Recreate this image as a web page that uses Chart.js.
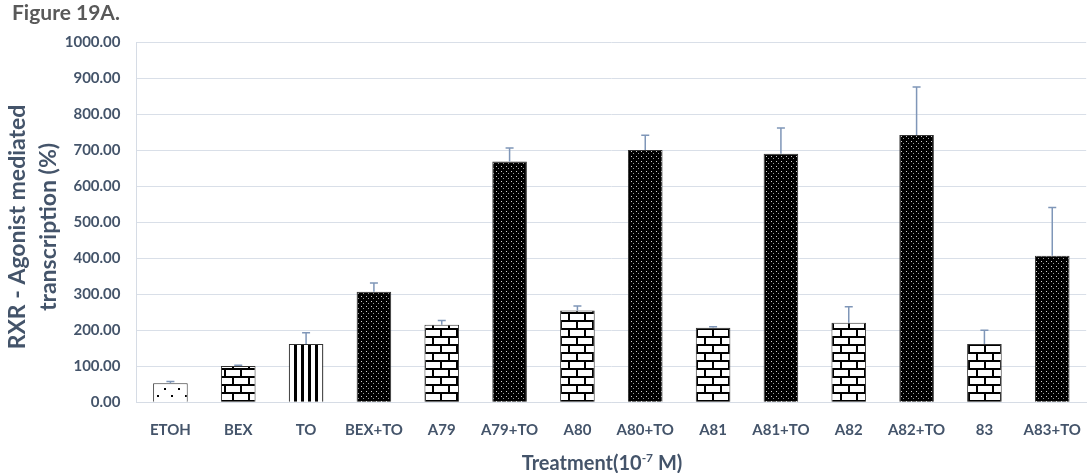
<!DOCTYPE html>
<html>
<head>
<meta charset="utf-8">
<script src="https://cdn.jsdelivr.net/npm/chart.js@4.4.1/dist/chart.umd.min.js"></script>
<style>
  html, body { margin: 0; padding: 0; background: #fff; overflow: hidden; }
  #wrap { position: relative; width: 1100px; height: 473px; }
</style>
</head>
<body>
<div id="wrap"><canvas id="chart"></canvas></div>
<script>
// Treatment groups (x axis)
const categories = ['ETOH', 'BEX', 'TO', 'BEX+TO', 'A79', 'A79+TO', 'A80', 'A80+TO',
                    'A81', 'A81+TO', 'A82', 'A82+TO', '83', 'A83+TO'];
// mean transcription (%) and upper error (SD)
const means  = [53, 101, 162, 307, 215, 668, 255, 700, 207, 690, 221, 742, 162, 407];
const errors = [5, 2, 31, 24, 12, 38, 12, 41, 3, 71, 44, 133, 38, 134];
// fill pattern for each bar
const fills = ['sparseDots', 'brick', 'stripes', 'darkDots', 'brick', 'darkDots', 'brick',
               'darkDots', 'brick', 'darkDots', 'brick', 'darkDots', 'brick', 'darkDots'];
const yMin = 0, yMax = 1000, yStep = 100;

const LABEL = '#44546A';
const FONT = 'Lato, "Open Sans", sans-serif';

// --- pattern tiles ---
function makePattern(kind) {
    const c = document.createElement('canvas');
    const g = c.getContext('2d');
    if (kind === 'sparseDots') {
        c.width = 14; c.height = 14;
        g.fillStyle = '#fff'; g.fillRect(0, 0, 14, 14);
        g.fillStyle = '#000';
        g.fillRect(3, 3, 2, 2);
        g.fillRect(10, 10, 2, 2);
    } else if (kind === 'brick') {
        c.width = 16; c.height = 16;
        g.fillStyle = '#fff'; g.fillRect(0, 0, 16, 16);
        g.fillStyle = '#000';
        g.fillRect(0, 0, 16, 2);
        g.fillRect(0, 8, 16, 2);
        g.fillRect(0, 0, 2, 8);
        g.fillRect(8, 8, 2, 8);
    } else if (kind === 'stripes') {
        c.width = 7; c.height = 7;
        g.fillStyle = '#fff'; g.fillRect(0, 0, 7, 7);
        g.fillStyle = '#000';
        g.fillRect(0, 0, 3, 7);
    } else {
        c.width = 5; c.height = 5;
        g.fillStyle = '#000'; g.fillRect(0, 0, 5, 5);
        g.fillStyle = '#d0d0d0';
        g.fillRect(1, 1, 1, 1);
        g.fillStyle = '#9a9a9a';
        g.fillRect(3, 3, 1, 1);
    }
    return g.createPattern(c, 'repeat');
}

// --- error bars (upper only) ---
const errorBars = {
    id: 'errorBars',
    afterDatasetsDraw(chart) {
        const ctx = chart.ctx;
        const meta = chart.getDatasetMeta(0);
        const y = chart.scales.y;
        ctx.save();
        ctx.strokeStyle = '#7f96b8';
        ctx.lineWidth = 1.5;
        meta.data.forEach((bar, i) => {
            const top = y.getPixelForValue(means[i] + errors[i]);
            ctx.beginPath();
            ctx.moveTo(bar.x, bar.y);
            ctx.lineTo(bar.x, top);
            ctx.moveTo(bar.x - 4, top);
            ctx.lineTo(bar.x + 4, top);
            ctx.stroke();
        });
        ctx.restore();
    }
};

// --- figure label and axis titles ---
const titles = {
    id: 'titles',
    afterDraw(chart) {
        const ctx = chart.ctx;
        ctx.save();
        ctx.fillStyle = '#595959';
        ctx.font = 'bold 21px ' + FONT;
        ctx.textBaseline = 'alphabetic';
        ctx.textAlign = 'left';
        ctx.fillText('Figure 19A.', 12, 20);

        // y title, two lines rotated
        ctx.fillStyle = LABEL;
        ctx.font = 'bold 23px ' + FONT;
        ctx.textAlign = 'center';
        ctx.textBaseline = 'middle';
        ctx.translate(0, 227);
        ctx.rotate(-Math.PI / 2);
        ctx.fillText('RXR - Agonist mediated', 0, 18);
        ctx.fillText('transcription (%)', 0, 49);
        ctx.setTransform(1, 0, 0, 1, 0, 0);

        // x title with superscript
        const base = 470, cx = 602;
        const p1 = 'Treatment(10', sup = '-7', p2 = ' M)';
        ctx.textBaseline = 'alphabetic';
        ctx.textAlign = 'left';
        ctx.font = 'bold 20px ' + FONT;
        const w1 = ctx.measureText(p1).width, w3 = ctx.measureText(p2).width;
        ctx.font = 'bold 12px ' + FONT;
        const w2 = ctx.measureText(sup).width;
        let x = cx - (w1 + w2 + w3) / 2;
        ctx.font = 'bold 20px ' + FONT;
        ctx.fillText(p1, x, base);
        x += w1;
        ctx.font = 'bold 12px ' + FONT;
        ctx.fillText(sup, x, base - 8);
        x += w2;
        ctx.font = 'bold 20px ' + FONT;
        ctx.fillText(p2, x, base);
        ctx.restore();
    }
};

const ctx = document.getElementById('chart').getContext('2d');
new Chart(ctx, {
    type: 'bar',
    data: {
        labels: categories,
        datasets: [{
            data: means,
            backgroundColor: fills.map(makePattern),
            borderColor: '#333',
            borderWidth: 1,
            categoryPercentage: 1,
            barPercentage: 0.51
        }]
    },
    options: {
        responsive: true,
        maintainAspectRatio: false,
        animation: false,
        layout: { padding: { top: 42, left: 0, right: 3, bottom: 0 } },
        plugins: { legend: { display: false }, tooltip: { enabled: false } },
        scales: {
            x: {
                grid: { display: false, drawTicks: false },
                border: { display: true, color: '#d6dce5', width: 1 },
                ticks: { color: LABEL, font: { family: FONT, size: 15, weight: 'bold' }, padding: 19, maxRotation: 0 },
                afterFit(scale) { scale.height = 70.7; }
            },
            y: {
                min: yMin, max: yMax,
                grid: { color: '#d9dfe8', lineWidth: 1, drawTicks: false },
                border: { display: true, color: '#d6dce5', width: 1 },
                ticks: {
                    stepSize: yStep,
                    color: LABEL,
                    font: { family: FONT, size: 15, weight: 'bold' },
                    padding: 16,
                    callback: v => v.toFixed(2)
                },
                afterFit(scale) { scale.width = 136.5; }
            }
        }
    },
    plugins: [errorBars, titles]
});
</script>
</body>
</html>
